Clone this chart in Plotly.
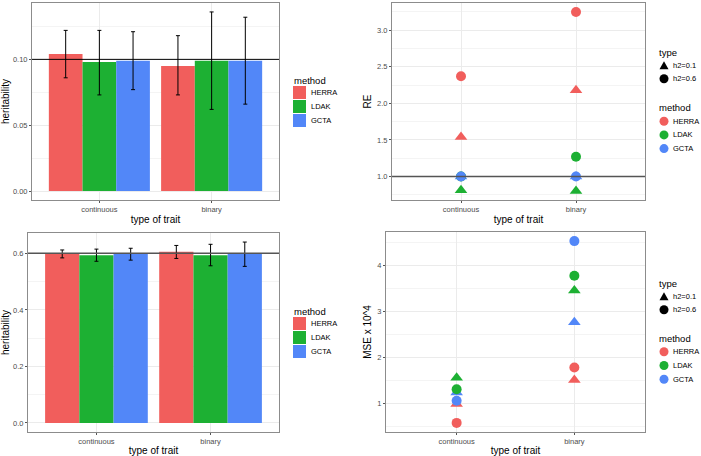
import plotly.graph_objects as go

methods = ["HERRA", "LDAK", "GCTA"]
traits = ["continuous", "binary"]
colors = ["#F15E5C", "#1DB033", "#5287F8"]

# heritability estimates, true h2 = 0.1 (rows: methods, cols: traits)
est_low = [[0.104, 0.095], [0.098, 0.099], [0.099, 0.099]]
upr_low = [[0.122, 0.118], [0.122, 0.136], [0.121, 0.132]]
lwr_low = [[0.086, 0.073], [0.073, 0.062], [0.077, 0.066]]

# heritability estimates, true h2 = 0.6
est_high = [[0.598, 0.606], [0.593, 0.593], [0.598, 0.598]]
upr_high = [[0.612, 0.628], [0.615, 0.632], [0.618, 0.640]]
lwr_high = [[0.584, 0.582], [0.572, 0.556], [0.576, 0.554]]

# relative efficiency
re_low = [[1.54, 2.18], [0.81, 0.80], [1.00, 1.00]]
re_high = [[2.37, 3.25], [1.00, 1.27], [1.00, 1.00]]

# MSE x 10^4
mse_low = [[0.99, 1.51], [1.56, 3.45], [1.24, 2.76]]
mse_high = [[0.58, 1.78], [1.31, 3.77], [1.06, 4.52]]

W, H = 701, 456
FONT = "Liberation Sans, Arial, sans-serif"


def px(x):
    return x / W


def py(y):
    return 1 - y / H


fig = go.Figure()

# bar panels
for ax, est, upr, lwr in [("", est_low, upr_low, lwr_low), ("3", est_high, upr_high, lwr_high)]:
    for i, m in enumerate(methods):
        fig.add_trace(go.Bar(
            x=traits, y=est[i], name=m,
            marker=dict(color=colors[i], line=dict(width=0)),
            error_y=dict(type="data", symmetric=False,
                         array=[u - e for u, e in zip(upr[i], est[i])],
                         arrayminus=[e - l for e, l in zip(est[i], lwr[i])],
                         color="black", thickness=1, width=2),
            offsetgroup=m,
            xaxis="x" + ax, yaxis="y" + ax,
            showlegend=False,
        ))

# point panels: triangles first, circles on top
for ax, low, high in [("2", re_low, re_high), ("4", mse_low, mse_high)]:
    for vals, sym, size in [(low, "triangle-up", 11), (high, "circle", 10)]:
        for i, m in enumerate(methods):
            fig.add_trace(go.Scatter(
                x=traits, y=vals[i], mode="markers", name=m,
                marker=dict(symbol=sym, size=size, color=colors[i], line=dict(width=0)),
                xaxis="x" + ax, yaxis="y" + ax,
                showlegend=False,
            ))

grid = "#EBEBEB"
frame = "#8C8C8C"


def xax(dom, anchor):
    return dict(domain=dom, anchor=anchor, type="category", range=[-0.6, 1.6],
                showgrid=True, gridcolor=grid, gridwidth=1,
                showline=True, mirror=True, linecolor=frame, linewidth=1,
                ticks="outside", ticklen=2, tickcolor="#555",
                tickfont=dict(size=7.5, color="#4D4D4D"),
                title=dict(text="type of trait", font=dict(size=10, color="black"), standoff=2),
                zeroline=False)


def yax(dom, anchor, rng, dtick, title):
    return dict(domain=dom, anchor=anchor, range=rng, dtick=dtick, tick0=0,
                showgrid=True, gridcolor=grid, gridwidth=1,
                minor=dict(dtick=dtick / 2, tick0=0, showgrid=True, gridcolor="#F4F4F4", gridwidth=0.6),
                showline=True, mirror=True, linecolor=frame, linewidth=1,
                ticks="outside", ticklen=2, tickcolor="#555",
                tickfont=dict(size=7.5, color="#4D4D4D"),
                title=dict(text=title, font=dict(size=10, color="black"), standoff=3),
                zeroline=False)


fig.update_layout(
    width=W, height=H,
    margin=dict(l=0, r=0, t=0, b=0),
    paper_bgcolor="white", plot_bgcolor="white",
    font=dict(family=FONT),
    barmode="group", bargap=0.1, bargroupgap=0,
    xaxis=xax([px(32), px(279)], "y"),
    yaxis=yax([py(200), py(3)], "x", [-0.0068, 0.1428], 0.05, "heritability"),
    xaxis2=xax([px(392), px(645)], "y2"),
    yaxis2=yax([py(200), py(3)], "x2", [0.6775, 3.3725], 0.5, "RE"),
    xaxis3=xax([px(28), px(279)], "y3"),
    yaxis3=yax([py(432), py(233)], "x3", [-0.032, 0.672], 0.2, "heritability"),
    xaxis4=xax([px(386), px(645)], "y4"),
    yaxis4=yax([py(432), py(232)], "x4", [0.383, 4.717], 1, "MSE x 10^4"),
)
fig.update_layout(yaxis=dict(tickformat=".2f"), yaxis2=dict(tickformat=".1f"),
                  yaxis3=dict(tickformat=".1f"))

# reference lines at the true values
shapes = []
for yref, yv, col, w in [("y", 0.1, "black", 1), ("y2", 1.0, "#555555", 1.5), ("y3", 0.6, "#555555", 1.5)]:
    xr = yref.replace("y", "x")
    shapes.append(dict(type="line", xref=xr + " domain", yref=yref, x0=0, x1=1, y0=yv, y1=yv,
                       line=dict(color=col, width=w), layer="above"))

annotations = []


def label(x, y, text, size):
    annotations.append(dict(x=px(x), y=py(y), xref="paper", yref="paper", text=text,
                            showarrow=False, xanchor="left", yanchor="middle",
                            font=dict(size=size, color="black")))


# bar legends
for ty in [80, 311]:
    label(292, ty, "method", 9.5)
    for i, m in enumerate(methods):
        cy = ty + 12.5 + 14 * i
        shapes.append(dict(type="rect", xref="paper", yref="paper",
                           x0=px(293), x1=px(306), y0=py(cy + 6.5), y1=py(cy - 6.5),
                           fillcolor=colors[i], line=dict(width=0)))
        label(309, cy, m, 7.5)

# point legends
for ty, my in [(52.3, 107.7), (283.3, 338.3)]:
    label(657, ty, "type", 9.5)
    cy = ty + 13
    shapes.append(dict(type="path", xref="paper", yref="paper",
                       path=f"M{px(659.5)},{py(cy + 4)} L{px(668.5)},{py(cy + 4)} L{px(664)},{py(cy - 4)} Z",
                       fillcolor="black", line=dict(width=0)))
    label(671, cy, "h2=0.1", 7.5)
    cy = ty + 26.5
    shapes.append(dict(type="circle", xref="paper", yref="paper",
                       x0=px(659.5), x1=px(668.5), y0=py(cy + 4.5), y1=py(cy - 4.5),
                       fillcolor="black", line=dict(width=0)))
    label(671, cy, "h2=0.6", 7.5)
    label(657, my, "method", 9.5)
    for i, m in enumerate(methods):
        cy = my + 13.5 + 13.7 * i
        shapes.append(dict(type="circle", xref="paper", yref="paper",
                           x0=px(659.5), x1=px(668.5), y0=py(cy + 4.5), y1=py(cy - 4.5),
                           fillcolor=colors[i], line=dict(width=0)))
        label(671, cy, m, 7.5)

fig.update_layout(shapes=shapes, annotations=annotations)

# page body has a default margin; drop it so the figure sits at the window origin
fig.write_html("out.html", config={"displayModeBar": False},
               post_script="document.body.style.margin='0';")
